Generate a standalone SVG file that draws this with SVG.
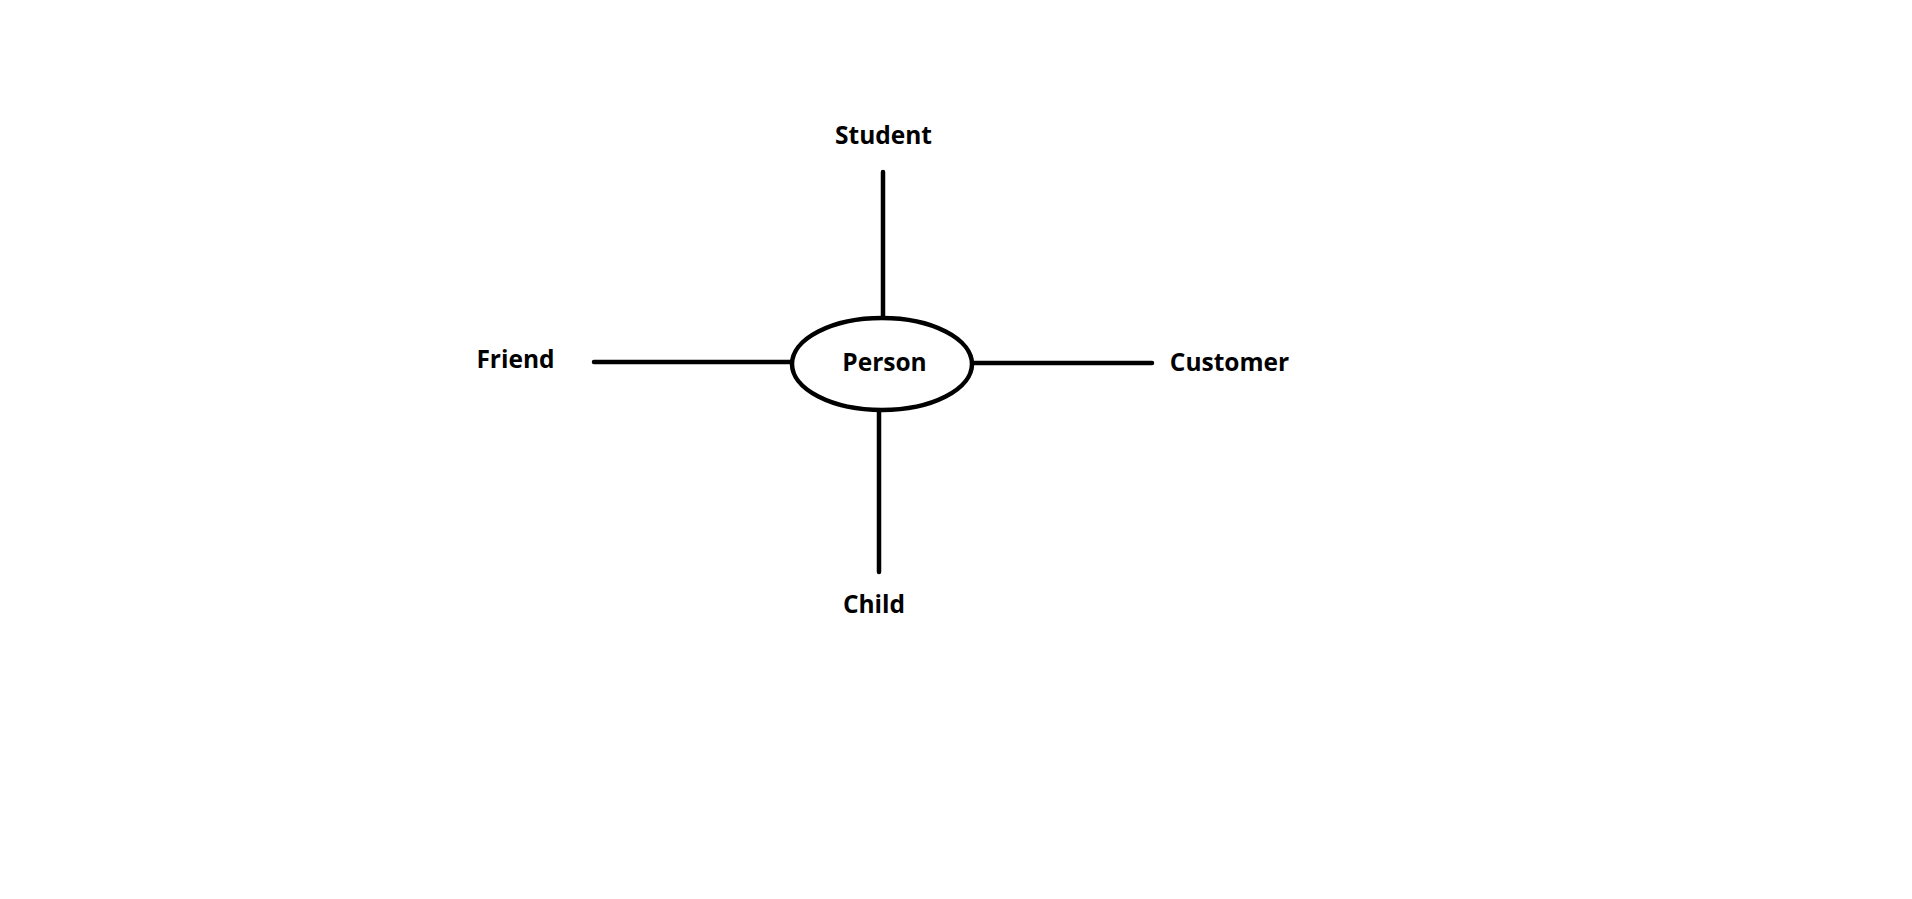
<svg xmlns="http://www.w3.org/2000/svg" width="1912" height="899" viewBox="0 0 1912 899">
<style>
.lbl{font-family:"Open Sans","Liberation Sans",sans-serif;font-weight:bold;font-size:24.5px;fill:#000;text-anchor:middle}
.edge{stroke:#000;stroke-width:4.5;stroke-linecap:round;fill:none}
.node{stroke:#000;stroke-width:4.5;fill:#fff}
</style>
<rect width="1912" height="899" fill="#fff"/>
<g id="connectors">
<line class="edge" x1="883" y1="172" x2="883" y2="318"/>
<line class="edge" x1="594" y1="362" x2="792" y2="362"/>
<line class="edge" x1="973" y1="363" x2="1152" y2="363"/>
<line class="edge" x1="879" y1="410" x2="879" y2="572"/>
</g>
<g id="person">
<ellipse class="node" cx="882" cy="364" rx="90" ry="46"/>
<text class="lbl" x="884.5" y="371">Person</text>
</g>
<g id="student"><text class="lbl" x="883.5" y="144">Student</text></g>
<g id="friend"><text class="lbl" x="515.5" y="368">Friend</text></g>
<g id="customer"><text class="lbl" x="1229.5" y="371">Customer</text></g>
<g id="child"><text class="lbl" x="874" y="613">Child</text></g>
</svg>
